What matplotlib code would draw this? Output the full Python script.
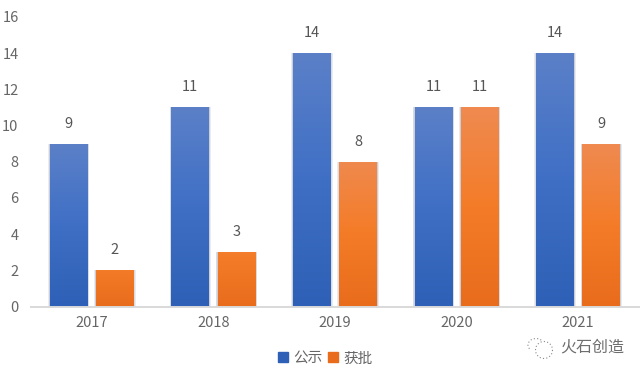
#!/usr/bin/env python3
"""Grouped bars of yearly counts, with vertical gradient fills."""

import matplotlib

matplotlib.use("Agg")
import matplotlib.pyplot as plt  # noqa: E402
import numpy as np  # noqa: E402
from matplotlib.colors import LinearSegmentedColormap  # noqa: E402
from matplotlib.patches import Arc, Patch  # noqa: E402

plt.rcParams["font.family"] = ["Noto Sans CJK SC", "DejaVu Sans"]

YEARS = ["2017", "2018", "2019", "2020", "2021"]
PUBLIC = [9, 11, 14, 11, 14]
APPROVED = [2, 3, 8, 11, 9]
Y_TICKS = [0, 2, 4, 6, 8, 10, 12, 14, 16]

TEXT = "#666666"
BLUE = ("#2d60b6", "#3f6fc5", "#5b80c8")
ORANGE = ("#e86c1c", "#f47c28", "#ef8a50")
BAR_WIDTH = 0.31
OFFSET = 0.19


def draw_bars(ax, xs, values, colors):
    cmap = LinearSegmentedColormap.from_list("bar", colors)
    ramp = np.linspace(1, 0, 128).reshape(-1, 1)
    # soft edge round each bar, built up from a few faint wider bars
    for grow in (0.03, 0.02, 0.01):
        ax.bar(xs, values, width=BAR_WIDTH + grow, color="#6f7f9a", alpha=0.14, zorder=1, linewidth=0)
    for x, value in zip(xs, values):
        # short bars only reach the lower part of the colour ramp
        top = min(1.0, 0.3 + value / 12)
        ax.imshow(
            ramp * top,
            cmap=cmap,
            vmin=0,
            vmax=1,
            aspect="auto",
            extent=[x - BAR_WIDTH / 2, x + BAR_WIDTH / 2, 0, value],
            zorder=2,
        )
        ax.annotate(
            str(value),
            (x, value),
            xytext=(0, 14.5),
            textcoords="offset points",
            ha="center",
            va="center",
            fontsize=10.5,
            color="#555555",
        )


def draw_watermark(fig):
    overlay = fig.add_axes([0, 0, 1, 1], facecolor="none")
    overlay.set_xlim(0, 644)
    overlay.set_ylim(375, 0)
    overlay.axis("off")
    for cx, cy, w, h, start, end in [
        (536, 345, 16, 13, 150, 330),
        (544, 350, 17, 17, 0, 360),
    ]:
        overlay.add_patch(
            Arc((cx, cy), w, h, theta1=start, theta2=end, color="#8a8a8a", lw=0.8, linestyle=(0, (1, 2)))
        )
    overlay.text(560, 347, "火石创造", fontsize=11.5, color="#6e6e6e", va="center", ha="left")


def main():
    fig = plt.figure(figsize=(6.44, 3.75), dpi=100)
    ax = fig.add_axes([31 / 644, 1 - 306.5 / 375, 608 / 644, 289.5 / 375])

    positions = np.arange(len(YEARS))
    draw_bars(ax, positions - OFFSET, PUBLIC, BLUE)
    draw_bars(ax, positions + OFFSET, APPROVED, ORANGE)

    ax.set_xlim(-0.5, len(YEARS) - 0.5)
    ax.set_ylim(0, 16)
    ax.set_xticks(positions, YEARS)
    ax.set_yticks(Y_TICKS)
    ax.tick_params(axis="both", length=0, labelsize=10.5, labelcolor=TEXT)
    ax.tick_params(axis="x", pad=7)
    ax.tick_params(axis="y", pad=9)
    for side in ("top", "left", "right"):
        ax.spines[side].set_visible(False)
    ax.spines["bottom"].set_color("#d9d9d9")
    ax.spines["bottom"].set_linewidth(1.4)
    ax.spines["bottom"].set_zorder(3)

    handles = [Patch(color=BLUE[0], label="公示"), Patch(color=ORANGE[0], label="获批")]
    fig.legend(
        handles=handles,
        loc="center",
        bbox_to_anchor=(325.5 / 644, 1 - 358.5 / 375),
        ncol=2,
        frameon=False,
        fontsize=10.5,
        labelcolor=TEXT,
        handlelength=0.68,
        handleheight=0.68,
        handletextpad=0.35,
        columnspacing=0.4,
    )
    draw_watermark(fig)

    fig.savefig("out.png", dpi=100)
    plt.close(fig)


if __name__ == "__main__":
    main()
